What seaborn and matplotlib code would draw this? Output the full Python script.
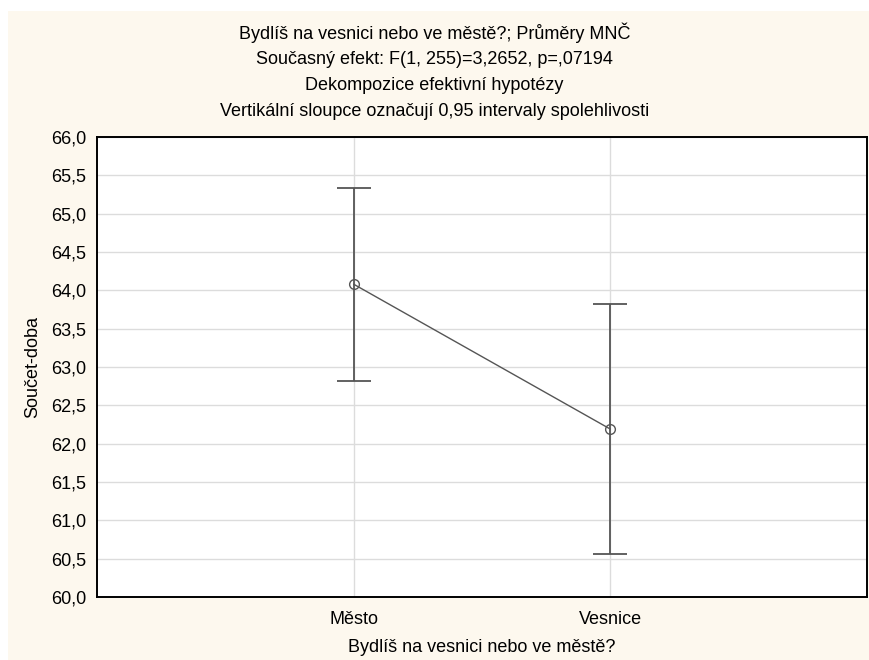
import matplotlib
matplotlib.use("Agg")
import matplotlib.pyplot as plt
from matplotlib.patches import Rectangle
import seaborn as sns
import pandas as pd
import numpy as np

categories = ["Město", "Vesnice"]
means = [64.08, 62.19]
ci_low = [62.82, 60.565]
ci_high = [65.34, 63.82]
yticks = [60.0, 60.5, 61.0, 61.5, 62.0, 62.5, 63.0, 63.5, 64.0, 64.5, 65.0, 65.5, 66.0]

title_lines = [
    "Bydlíš na vesnici nebo ve městě?; Průměry MNČ",
    "Současný efekt: F(1, 255)=3,2652, p=,07194",
    "Dekompozice efektivní hypotézy",
    "Vertikální sloupce označují 0,95 intervaly spolehlivosti",
]
xlabel = "Bydlíš na vesnici nebo ve městě?"
ylabel = "Součet-doba"

sns.set_theme(style="white")
plt.rcParams["font.family"] = ["Liberation Sans", "DejaVu Sans"]

W, H = 869, 660
fig = plt.figure(figsize=(W / 100, H / 100), dpi=100)
fig.patch.set_facecolor("white")
bg = "#fdf8ee"
fig.patches.append(Rectangle((8 / W, 0), 1 - 8 / W, 1 - 11 / H, transform=fig.transFigure,
                             facecolor=bg, edgecolor="none", zorder=-10))

left, right, top, bottom = 97, 867, 137, 597
ax = fig.add_axes([left / W, 1 - bottom / H, (right - left) / W, (bottom - top) / H])
ax.set_facecolor("white")

fs = 13
df = pd.DataFrame({"cat": categories, "mean": means})
line_color = "#555555"
sns.pointplot(data=df, x="cat", y="mean", errorbar=None, color=line_color,
              markers="o", linestyles="-", ax=ax, zorder=3,
              markerfacecolor="none", markeredgecolor=line_color,
              markersize=7, linewidth=1.0)
for ln in ax.lines:
    ln.set_markerfacecolor("none")
    ln.set_markeredgewidth(1.0)

xs = np.arange(len(categories))
m = np.array(means)
err = np.vstack([m - np.array(ci_low), np.array(ci_high) - m])
ax.errorbar(xs, m, yerr=err, fmt="none", ecolor=line_color, elinewidth=1.3,
            capsize=12.5, capthick=1.3, zorder=2)

ax.set_xlim(-1, 2)
ax.set_ylim(60, 66)
ax.set_yticks(yticks)
ax.set_yticklabels([f"{v:.1f}".replace(".", ",") for v in yticks])
ax.set_xticks(xs)
ax.set_xticklabels(categories)
ax.grid(True, color="#dcdcdc", linewidth=1.0, zorder=0)
ax.set_axisbelow(True)
for s in ax.spines.values():
    s.set_visible(True)
    s.set_color("black")
    s.set_linewidth(1.4)
ax.tick_params(axis="y", direction="out", length=4, width=1, colors="black", labelsize=fs, pad=4)
ax.tick_params(axis="x", direction="in", length=4, width=1, colors="black", labelsize=fs, pad=10)
ax.set_xlabel(xlabel, fontsize=fs, color="black", labelpad=8)
ax.set_ylabel(ylabel, fontsize=fs, color="black", labelpad=7)

for i, t in enumerate(title_lines):
    fig.text(0.5, 1 - (33 + 26.3 * i) / H, t, ha="center", va="center", fontsize=fs, color="black")

fig.savefig("out.png", dpi=100, facecolor=fig.get_facecolor())
